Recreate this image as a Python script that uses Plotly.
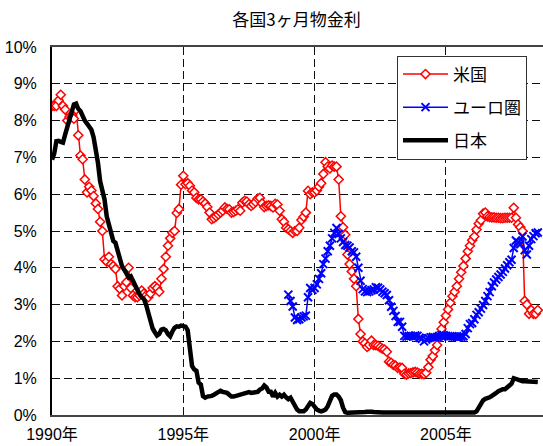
import plotly.graph_objects as go

# ---- data (monthly, %) ----
us_start = (1990, 1)
us_rate = [
    # 1990
    8.4, 8.4, 8.4, 8.55, 8.7, 8.4, 8.3, 8.0, 8.1, 8.1, 8.05, 8.3,
    # 1991
    7.6, 7.05, 6.95, 6.4, 6.05, 6.2, 6.1, 5.95, 5.75, 5.6, 5.25, 5.0,
    # 1992
    4.23, 4.17, 4.3, 4.1, 4.05, 3.97, 3.5, 3.43, 3.25, 3.5, 3.61, 4.0,
    # 1993
    3.45, 3.25, 3.2, 3.2, 3.25, 3.38, 3.3, 3.25, 3.2, 3.3, 3.45, 3.5,
    # 1994
    3.45, 3.35, 3.7, 3.97, 4.3, 4.6, 4.8, 4.95, 5.0, 5.49, 5.6, 6.26,
    # 1995
    6.5, 6.27, 6.3, 6.23, 6.1, 6.05, 5.9, 5.86, 5.86, 5.8, 5.75, 5.65,
    # 1996
    5.5, 5.32, 5.35, 5.4, 5.45, 5.5, 5.55, 5.64, 5.6, 5.59, 5.5, 5.52,
    # 1997
    5.55, 5.59, 5.55, 5.77, 5.82, 5.8, 5.73, 5.68, 5.73, 5.79, 5.88, 5.9,
    # 1998
    5.75, 5.65, 5.68, 5.7, 5.68, 5.64, 5.74, 5.72, 5.55, 5.32, 5.25, 5.09,
    # 1999
    5.05, 5.0, 4.95, 5.0, 5.0, 5.09, 5.3, 5.39, 5.5, 6.09, 6.0, 6.05,
    # 2000
    6.05, 6.1, 6.2, 6.3, 6.55, 6.87, 6.75, 6.7, 6.78, 6.75, 6.75, 6.4,
    # 2001
    5.4, 5.1, 4.9, 4.36, 4.1, 3.9, 3.7, 3.5, 2.61, 2.2, 2.0, 1.95,
    # 2002
    1.85, 1.9, 2.02, 1.9, 1.9, 1.88, 1.84, 1.8, 1.78, 1.72, 1.45, 1.42,
    # 2003
    1.36, 1.34, 1.28, 1.29, 1.28, 1.12, 1.1, 1.13, 1.14, 1.16, 1.17, 1.15,
    # 2004
    1.12, 1.12, 1.11, 1.15, 1.3, 1.5, 1.6, 1.76, 1.9, 2.1, 2.34, 2.52,
    # 2005
    2.7, 2.87, 3.05, 3.23, 3.35, 3.5, 3.7, 3.88, 4.05, 4.25, 4.45, 4.6,
    # 2006
    4.75, 4.85, 5.04, 5.2, 5.29, 5.47, 5.5, 5.4, 5.38, 5.37, 5.37, 5.36,
    # 2007
    5.36, 5.35, 5.35, 5.36, 5.36, 5.36, 5.36, 5.63, 5.36, 5.18, 5.1, 5.0,
    # 2008
    3.1, 3.0, 2.75, 2.85, 2.75, 2.75, 2.85,
]

eu_start = (1999, 1)
eu_rate = [
    # 1999
    3.27, 3.1, 2.95, 2.65, 2.58, 2.6, 2.65, 2.68, 2.7, 3.2, 3.45, 3.4,
    # 2000
    3.45, 3.55, 3.7, 3.85, 4.1, 4.25, 4.45, 4.6, 4.8, 4.95, 5.08, 4.92,
    # 2001
    4.8, 4.7, 4.62, 4.6, 4.55, 4.45, 4.42, 4.3, 4.0, 3.65, 3.42, 3.36,
    # 2002
    3.34, 3.36, 3.39, 3.41, 3.47, 3.46, 3.41, 3.35, 3.31, 3.26, 3.12, 2.94,
    # 2003
    2.83, 2.69, 2.53, 2.53, 2.4, 2.15, 2.13, 2.14, 2.15, 2.14, 2.16, 2.15,
    # 2004
    2.1, 2.07, 2.0, 2.05, 2.09, 2.11, 2.12, 2.11, 2.12, 2.15, 2.17, 2.17,
    # 2005
    2.15, 2.14, 2.14, 2.14, 2.13, 2.11, 2.12, 2.13, 2.14, 2.2, 2.36, 2.47,
    # 2006
    2.5, 2.6, 2.72, 2.79, 2.89, 2.99, 3.1, 3.23, 3.34, 3.5, 3.6, 3.68,
    # 2007
    3.75, 3.82, 3.89, 3.98, 4.07, 4.15, 4.22, 4.54, 4.74, 4.69, 4.64, 4.85,
    # 2008
    4.48, 4.36, 4.6, 4.78, 4.86, 4.94, 4.96,
]

jp_start = (1990, 1)
jp_rate = [
    # 1990
    6.94, 7.1, 7.44, 7.45, 7.42, 7.4, 7.62, 7.84, 8.1, 8.3, 8.44, 8.46,
    # 1991
    8.32, 8.26, 8.1, 8.0, 7.92, 7.85, 7.75, 7.55, 7.26, 6.85, 6.35, 6.13,
    # 1992
    5.86, 5.4, 5.13, 4.86, 4.73, 4.68, 4.45, 4.24, 4.04, 3.95, 3.83, 3.74,
    # 1993
    3.77, 3.65, 3.5, 3.36, 3.28, 3.2, 3.15, 3.0, 2.75, 2.55, 2.35, 2.25,
    # 1994
    2.16, 2.2, 2.32, 2.34, 2.3, 2.2, 2.14, 2.27, 2.37, 2.41, 2.4, 2.43,
    # 1995
    2.43, 2.4, 2.3, 1.8, 1.33, 1.24, 1.2, 0.88, 0.83, 0.51, 0.47, 0.5,
    # 1996
    0.5, 0.52, 0.55, 0.6, 0.62, 0.66, 0.63, 0.62, 0.6, 0.55, 0.5, 0.5,
    # 1997
    0.52, 0.53, 0.56, 0.57, 0.58, 0.6, 0.62, 0.6, 0.6, 0.62, 0.63, 0.69,
    # 1998
    0.72, 0.8, 0.75, 0.63, 0.63, 0.5, 0.6, 0.5, 0.55, 0.5, 0.55, 0.48,
    # 1999
    0.43, 0.47, 0.34, 0.24, 0.15, 0.1, 0.1, 0.1, 0.15, 0.22, 0.33, 0.3,
    # 2000
    0.2, 0.15, 0.12, 0.1, 0.12, 0.15, 0.24, 0.4, 0.52, 0.56, 0.56, 0.5,
    # 2001
    0.4, 0.2, 0.08, 0.06, 0.06, 0.05, 0.05, 0.05, 0.05, 0.06, 0.07, 0.08,
    # 2002
    0.09, 0.1, 0.09, 0.08, 0.07, 0.07, 0.07, 0.07, 0.07, 0.07, 0.07, 0.07,
    # 2003
    0.07, 0.06, 0.06, 0.06, 0.06, 0.06, 0.06, 0.06, 0.06, 0.06, 0.06, 0.06,
    # 2004
    0.06, 0.05, 0.05, 0.05, 0.05, 0.05, 0.05, 0.05, 0.05, 0.05, 0.05, 0.05,
    # 2005
    0.05, 0.05, 0.05, 0.05, 0.05, 0.05, 0.05, 0.05, 0.05, 0.05, 0.06, 0.06,
    # 2006
    0.06, 0.07, 0.1, 0.2, 0.3, 0.4, 0.44, 0.45, 0.48, 0.52, 0.58, 0.6,
    # 2007
    0.65, 0.68, 0.7, 0.7, 0.75, 0.78, 0.85, 1.0, 0.98, 0.93, 0.93, 0.92,
    # 2008
    0.92, 0.92, 0.93, 0.92, 0.92, 0.91, 0.9,
]

series_names = ["米国", "ユーロ圏", "日本"]
x_tick_years = [1990, 1995, 2000, 2005]
x_tick_labels = ["1990年", "1995年", "2000年", "2005年"]
y_ticks = list(range(0, 11))
y_tick_labels = [f"{v}%" for v in y_ticks]
title_text = "各国3ヶ月物金利"


def month_axis(start, n):
    y0, m0 = start
    return [y0 + (m0 - 1 + i) / 12.0 for i in range(n)]


FONT = "Liberation Sans, Arial, Noto Sans CJK JP, sans-serif"

fig = go.Figure()
fig.add_trace(go.Scatter(
    x=month_axis(us_start, len(us_rate)), y=us_rate, name=series_names[0],
    mode="lines+markers", legendgroup="g1",
    line=dict(color="#ff0000", width=1.5),
    marker=dict(symbol="diamond", size=7, color="white",
                line=dict(color="#ff0000", width=1.5)),
))
fig.add_trace(go.Scatter(
    x=month_axis(eu_start, len(eu_rate)), y=eu_rate, name=series_names[1],
    mode="lines+markers", legendgroup="g2",
    line=dict(color="#0000ff", width=1.5),
    marker=dict(symbol="x-thin", size=8, color="#0000ff",
                line=dict(color="#0000ff", width=2)),
))
fig.add_trace(go.Scatter(
    x=month_axis(jp_start, len(jp_rate)), y=jp_rate, name=series_names[2],
    mode="lines", legendgroup="g3",
    line=dict(color="#000000", width=4.5),
))

grid_dash = "8px,4px"
fig.update_layout(
    width=543, height=446,
    margin=dict(l=52, r=0, t=47, b=31, autoexpand=False),
    paper_bgcolor="white", plot_bgcolor="white",
    font=dict(family=FONT, size=16, color="#000"),
    title=dict(text=title_text, x=296.5 / 543, xref="container", xanchor="center",
               y=1 - 20.5 / 446, yref="container", yanchor="middle", automargin=False,
               font=dict(size=17, family="Noto Sans CJK JP, sans-serif", color="#000")),
    showlegend=True,
    legend=dict(x=(397 - 52) / 491, y=(415.5 - 56) / 368, xanchor="left", yanchor="top",
                bgcolor="white", bordercolor="#333", borderwidth=1,
                font=dict(size=17, family="Noto Sans CJK JP, sans-serif"),
                tracegroupgap=8, itemwidth=45),
    xaxis=dict(range=[1990, 1990 + 491 / 26.26], tickvals=x_tick_years, ticktext=x_tick_labels,
               showgrid=True, gridcolor="#111", griddash=grid_dash, gridwidth=1,
               showline=True, linecolor="#444", linewidth=2, mirror=True,
               ticks="", zeroline=False, ticklabelstandoff=4, automargin=False,
               tickfont=dict(size=16)),
    yaxis=dict(range=[0, 10], tickvals=y_ticks, ticktext=y_tick_labels,
               showgrid=True, gridcolor="#111", griddash=grid_dash, gridwidth=1,
               showline=True, linecolor="#000", linewidth=2,
               ticks="", zeroline=False, ticklabelstandoff=10, automargin=False,
               tickfont=dict(size=16)),
)

fig.write_html(
    "out.html",
    config={"displayModeBar": False},
    post_script="document.body.style.margin='0';document.body.style.overflow='hidden';",
)
